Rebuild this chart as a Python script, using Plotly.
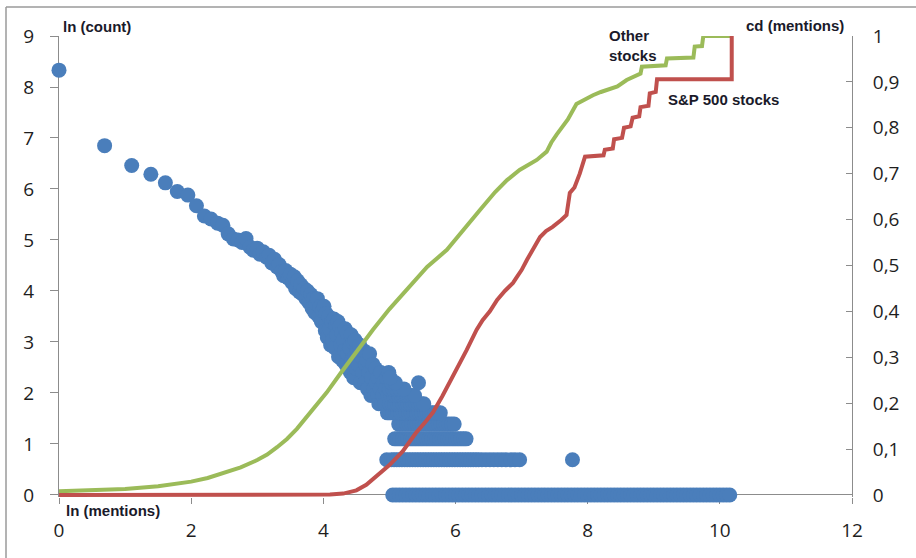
import plotly.graph_objects as go

# ---------------- data ----------------
# ln(count) vs ln(mentions): main decreasing sequence
top_x = [0.00, 0.69, 1.10, 1.39, 1.61, 1.79, 1.95, 2.08, 2.20, 2.30, 2.40, 2.48, 2.56, 2.64, 2.71,
         2.77, 2.83, 2.89, 2.94, 3.00, 3.04, 3.09, 3.14, 3.18, 3.22, 3.26, 3.30, 3.33, 3.37, 3.40,
         3.43, 3.47, 3.50, 3.53, 3.56, 3.58, 3.61, 3.64, 3.66, 3.69, 3.71, 3.74, 3.76, 3.78, 3.81,
         3.83, 3.85, 3.87, 3.89, 3.91, 3.93, 3.95, 3.97, 3.99, 4.01, 4.03, 4.04, 4.06, 4.08, 4.09,
         4.11, 4.13, 4.14, 4.16, 4.17, 4.19, 4.20, 4.22, 4.23, 4.25, 4.26, 4.28, 4.29, 4.30, 4.32,
         4.33, 4.34, 4.36, 4.37, 4.38,
         4.40, 4.41, 4.42, 4.43, 4.45, 4.46, 4.47, 4.48, 4.50, 4.52, 4.53, 4.55, 4.56, 4.58, 4.60,
         4.61, 4.63, 4.64, 4.66, 4.67, 4.69, 4.70, 4.72, 4.73, 4.75, 4.76, 4.78, 4.79, 4.80, 4.82,
         4.83, 4.84, 4.86, 4.87, 4.88, 4.90, 4.91, 4.93, 4.94, 4.96, 4.98, 4.99]
top_y = [8.33, 6.85, 6.46, 6.29, 6.12, 5.95, 5.88, 5.67, 5.47, 5.41, 5.33, 5.29, 5.12, 5.02, 5.00,
         4.95, 5.03, 4.86, 4.80, 4.84, 4.72, 4.77, 4.66, 4.70, 4.55, 4.62, 4.47, 4.52, 4.38, 4.30,
         4.40, 4.25, 4.33, 4.16, 4.28, 4.05, 4.20, 3.98, 4.12, 3.93, 4.05, 3.85, 4.00, 3.78, 3.93,
         3.66, 3.85, 3.58, 3.76, 3.85, 3.50, 3.69, 3.40, 3.61, 3.70, 3.22, 3.56, 3.09, 3.50, 3.26,
         2.94, 3.40, 3.04, 3.45, 2.89, 3.33, 3.14, 3.40, 2.71, 3.30, 2.94, 3.18, 2.64, 3.04, 2.83,
         3.26, 2.56, 3.18, 2.77, 2.48,
         2.89, 2.40, 3.14, 2.64, 2.99, 2.30, 2.71, 3.04, 2.48, 2.83, 2.56, 2.94, 2.20, 2.71, 2.40,
         2.83, 2.20, 2.56, 2.64, 2.08, 2.40, 2.77, 1.95, 2.30, 2.56, 2.08, 1.95, 2.48, 2.20, 1.95,
         2.30, 1.79, 2.08, 2.40, 1.79, 1.95, 2.20, 1.79, 2.08, 2.30, 1.95, 2.40]

# horizontal rows of low counts: ln(count) level and the ln(mentions) values on it
row_levels = [0.00, 0.69, 1.10, 1.39, 1.61, 1.79, 1.95, 2.08, 2.20, 2.30]
row_c1 = [5.05, 5.10, 5.15, 5.20, 5.25, 5.30, 5.35, 5.40, 5.45, 5.50, 5.55, 5.60, 5.65, 5.70, 5.75,
          5.80, 5.85, 5.90, 5.95, 6.00, 6.05, 6.10, 6.15, 6.20, 6.25, 6.30, 6.35, 6.40, 6.45, 6.50,
          6.55, 6.60, 6.65, 6.70, 6.75, 6.80, 6.85, 6.90, 6.95, 7.00, 7.05, 7.10, 7.15, 7.20, 7.25,
          7.30, 7.35, 7.40, 7.45, 7.50, 7.55, 7.60, 7.65, 7.70, 7.75, 7.80, 7.85, 7.90, 7.95, 8.00,
          8.05, 8.10, 8.15, 8.20, 8.25, 8.30, 8.35, 8.40, 8.45, 8.50, 8.55, 8.60, 8.65, 8.70, 8.75,
          8.80, 8.85, 8.90, 8.95, 9.00, 9.05, 9.10, 9.15, 9.20, 9.25, 9.30, 9.35, 9.40, 9.45, 9.50,
          9.55, 9.60, 9.65, 9.70, 9.75, 9.80, 9.85, 9.90, 9.95, 10.00, 10.05, 10.10, 10.15]
row_c2 = [4.96, 5.03, 5.07, 5.11, 5.15, 5.19, 5.23, 5.27, 5.31, 5.35, 5.39, 5.43, 5.47, 5.51, 5.55,
          5.59, 5.63, 5.67, 5.71, 5.75, 5.79, 5.83, 5.87, 5.91, 5.95, 5.99, 6.03, 6.07, 6.11, 6.15,
          6.19, 6.23, 6.27, 6.31, 6.35, 6.40, 6.46, 6.52, 6.58, 6.64, 6.70, 6.76, 6.84, 6.90, 6.97,
          7.77]
row_c3 = [5.08, 5.12, 5.16, 5.20, 5.24, 5.28, 5.32, 5.36, 5.40, 5.44, 5.48, 5.52, 5.56, 5.60,
          5.64, 5.68, 5.72, 5.76, 5.80, 5.84, 5.88, 5.92, 5.96, 6.00, 6.04, 6.08, 6.12, 6.16]
row_c4 = [5.14, 5.18, 5.22, 5.26, 5.30, 5.34, 5.38, 5.42, 5.46, 5.50, 5.54, 5.58, 5.62, 5.66,
          5.70, 5.74, 5.78, 5.82, 5.86, 5.90, 5.94, 5.98]
row_c5 = [4.97, 5.01, 5.05, 5.09, 5.13, 5.17, 5.21, 5.25, 5.29, 5.33, 5.37, 5.41, 5.45, 5.49,
          5.53, 5.57, 5.61, 5.65, 5.69, 5.73, 5.77]
row_c6 = [5.00, 5.04, 5.08, 5.12, 5.16, 5.20, 5.24, 5.28, 5.32, 5.36, 5.40, 5.44, 5.48, 5.52]
row_c7 = [5.02, 5.06, 5.10, 5.14, 5.18, 5.22, 5.26, 5.30, 5.34, 5.38]
row_c8 = [5.00, 5.05, 5.10, 5.16, 5.22]
row_c9 = [5.03, 5.09, 5.44]
row_c10 = [5.01]
rows_x = [row_c1, row_c2, row_c3, row_c4, row_c5, row_c6, row_c7, row_c8, row_c9, row_c10]

# cumulative distribution of mentions (right axis)
other_x = [0.00, 0.50, 1.00, 1.50, 2.00, 2.25, 2.50, 2.75, 3.00, 3.15, 3.30, 3.45, 3.60, 3.75,
           3.90, 4.05, 4.25, 4.50, 4.75, 5.00, 5.16, 5.36, 5.57, 5.87, 6.10, 6.37, 6.60, 6.78,
           6.97, 7.10, 7.23, 7.38, 7.45, 7.53, 7.58, 7.70, 7.83, 7.95, 8.08, 8.20, 8.38, 8.45,
           8.59, 8.70, 8.80, 8.82, 9.18, 9.20, 9.60, 9.62, 9.73, 9.75, 10.18]
other_cd = [0.008, 0.010, 0.013, 0.019, 0.029, 0.037, 0.048, 0.060, 0.076, 0.088, 0.104, 0.122,
            0.144, 0.170, 0.196, 0.223, 0.263, 0.313, 0.360, 0.405, 0.431, 0.462, 0.497, 0.534,
            0.575, 0.621, 0.660, 0.686, 0.708, 0.719, 0.730, 0.748, 0.768, 0.785, 0.795, 0.818,
            0.852, 0.862, 0.871, 0.878, 0.887, 0.890, 0.904, 0.912, 0.918, 0.933, 0.936, 0.951,
            0.953, 0.977, 0.978, 1.000, 1.000]

sp_x = [0.00, 1.00, 2.00, 3.00, 3.80, 4.10, 4.30, 4.50, 4.65, 4.80, 4.90, 5.00, 5.20, 5.40,
        5.55, 5.66, 5.80, 5.96, 6.05, 6.17, 6.32, 6.41, 6.52, 6.63, 6.75, 6.87, 6.93, 7.00,
        7.08, 7.17, 7.28, 7.37, 7.47, 7.60, 7.68, 7.73, 7.80, 7.88, 7.96, 8.24, 8.26, 8.38,
        8.40, 8.52, 8.55, 8.65, 8.68, 8.78, 8.80, 8.92, 8.94, 9.03, 9.05, 10.18, 10.18]
sp_cd = [0.000, 0.000, 0.000, 0.000, 0.000, 0.001, 0.003, 0.010, 0.022, 0.040, 0.052, 0.065,
         0.095, 0.135, 0.160, 0.180, 0.215, 0.258, 0.282, 0.316, 0.360, 0.381, 0.400, 0.425,
         0.445, 0.462, 0.475, 0.490, 0.512, 0.534, 0.562, 0.575, 0.584, 0.599, 0.610, 0.658,
         0.670, 0.700, 0.737, 0.740, 0.752, 0.755, 0.775, 0.778, 0.800, 0.803, 0.822, 0.825,
         0.845, 0.848, 0.875, 0.878, 0.906, 0.906, 1.000]

x_ticks = [0, 2, 4, 6, 8, 10, 12]

# ---------------- figure ----------------
W, H = 916, 558
L, R, T, B = 59, 64, 36, 61
PW, PH = W - L - R, H - T - B


def px(xp):
    return (xp - L) / PW


def py(yp):
    return (H - B - yp) / PH


sx = list(top_x)
sy = list(top_y)
for lvl, xs in zip(row_levels, rows_x):
    sx += xs
    sy += [lvl] * len(xs)

BLUE = "#4a7ebb"
GREEN = "#9bbb59"
RED = "#c0504d"
AXIS = "#8c8c8c"
TXT = "#1e1e1e"
LBL = "#1a1a2a"

fig = go.Figure()
fig.add_trace(go.Scatter(x=sx, y=sy, mode="markers", cliponaxis=False,
                         marker=dict(color=BLUE, size=15, line=dict(width=0)),
                         showlegend=False, hoverinfo="skip"))
fig.add_trace(go.Scatter(x=other_x, y=other_cd, mode="lines", yaxis="y2",
                         line=dict(color=GREEN, width=4), showlegend=False))
fig.add_trace(go.Scatter(x=sp_x, y=sp_cd, mode="lines", yaxis="y2",
                         line=dict(color=RED, width=4), showlegend=False))

tickfont = dict(family="Open Sans", size=19, color=TXT)

fig.update_layout(
    width=W, height=H,
    margin=dict(l=L, r=R, t=T, b=B, pad=0, autoexpand=False),
    paper_bgcolor="white", plot_bgcolor="white",
    separators=", ",
    showlegend=False,
    xaxis=dict(range=[0, 12], tickvals=x_ticks, showgrid=False, zeroline=False,
               showline=False, ticks="outside", ticklen=6, tickcolor=AXIS, tickwidth=1,
               tickfont=tickfont, ticklabelstandoff=10, layer="below traces"),
    yaxis=dict(range=[-0.04, 9], tick0=0, dtick=1, showgrid=False,
               zeroline=True, zerolinecolor=AXIS, zerolinewidth=1,
               showline=True, linecolor=AXIS, linewidth=1,
               ticks="outside", ticklen=8, tickcolor=AXIS, tickwidth=1,
               tickfont=tickfont, ticklabelstandoff=12, layer="below traces"),
    yaxis2=dict(range=[-0.04 / 9, 1], overlaying="y", side="right", tick0=0, dtick=0.1,
                showgrid=False, zeroline=False, showline=True, linecolor=AXIS, linewidth=1,
                ticks="inside", ticklen=6, tickcolor=AXIS, tickwidth=1,
                tickfont=tickfont, ticklabelstandoff=16, layer="below traces"),
)

labfont = dict(family="Liberation Sans", size=15, color=LBL)
ann = [
    ("<b>ln (count)</b>", 61, 27),
    ("<b>ln (mentions)</b>", 64, 511),
    ("<b>cd (mentions)</b>", 744, 26),
    ("<b>Other<br>stocks</b>", 607, 46),
    ("<b>S&P 500 stocks</b>", 666, 100),
]
for text, ax_, ay_ in ann:
    fig.add_annotation(text=text, x=px(ax_), y=py(ay_), xref="paper", yref="paper",
                       xanchor="left", yanchor="middle", align="left", showarrow=False,
                       font=labfont)

# outer chart frame (left and top edges visible in the crop)
fig.add_shape(type="line", xref="paper", yref="paper", x0=px(6), x1=px(916), y0=py(7), y1=py(7),
              line=dict(color="#9a9a9a", width=1.5))
fig.add_shape(type="line", xref="paper", yref="paper", x0=px(6), x1=px(6), y0=py(7), y1=py(558),
              line=dict(color="#9a9a9a", width=1.5))

fig.write_html("out.html")
